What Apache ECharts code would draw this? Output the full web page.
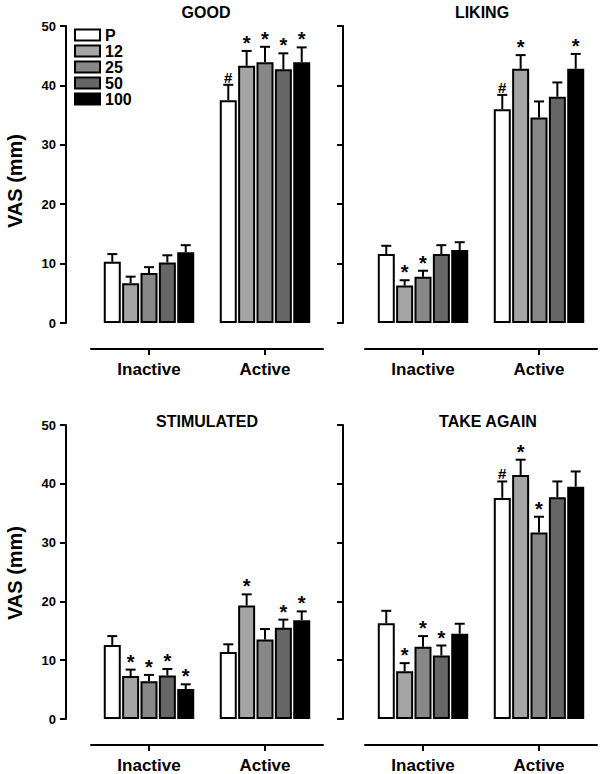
<!DOCTYPE html>
<html><head><meta charset="utf-8">
<script src="https://cdn.jsdelivr.net/npm/echarts@6/dist/echarts.min.js"></script>
<style>html,body{margin:0;padding:0;background:#fff}#chart{width:600px;height:774px}</style>
</head><body><div id="chart"></div>
<script>
// ---------- data ----------
const categories = ['Inactive', 'Active'];
const doses = ['P', '12', '25', '50', '100'];
const panelTitles = ['GOOD', 'LIKING', 'STIMULATED', 'TAKE AGAIN'];
const yTicks = [0, 10, 20, 30, 40, 50];
const yAxisTitle = 'VAS (mm)';

const goodInactive = [10.3, 6.7, 8.4, 10.2, 11.9];
const goodInactiveErr = [1.3, 1.1, 1.0, 1.2, 1.2];
const goodInactiveMarks = ['', '', '', '', ''];
const goodActive = [37.5, 43.3, 43.9, 42.7, 43.9];
const goodActiveErr = [2.6, 2.5, 2.6, 2.7, 2.5];
const goodActiveMarks = ['#', '*', '*', '*', '*'];

const likingInactive = [11.6, 6.3, 7.8, 11.6, 12.3];
const likingInactiveErr = [1.4, 0.9, 1.0, 1.5, 1.3];
const likingInactiveMarks = ['', '*', '*', '', ''];
const likingActive = [36.0, 42.8, 34.6, 38.1, 42.8];
const likingActiveErr = [2.4, 2.3, 2.7, 2.4, 2.5];
const likingActiveMarks = ['#', '*', '', '', '*'];

const stimInactive = [12.6, 7.3, 6.4, 7.4, 5.1];
const stimInactiveErr = [1.5, 1.1, 1.1, 1.1, 0.8];
const stimInactiveMarks = ['', '*', '*', '*', '*'];
const stimActive = [11.4, 19.3, 13.5, 15.5, 16.8];
const stimActiveErr = [1.3, 1.9, 1.8, 1.4, 1.5];
const stimActiveMarks = ['', '*', '', '*', '*'];

const takeInactive = [16.3, 8.1, 12.3, 10.8, 14.5];
const takeInactiveErr = [2.1, 1.4, 1.8, 1.7, 1.7];
const takeInactiveMarks = ['', '*', '*', '*', ''];
const takeActive = [37.6, 41.5, 31.7, 37.7, 39.5];
const takeActiveErr = [2.8, 2.6, 2.7, 2.7, 2.6];
const takeActiveMarks = ['#', '*', '*', '', ''];

// ---------- assembly ----------
const panels = [
  {inact: goodInactive, inactErr: goodInactiveErr, inactMarks: goodInactiveMarks, act: goodActive, actErr: goodActiveErr, actMarks: goodActiveMarks},
  {inact: likingInactive, inactErr: likingInactiveErr, inactMarks: likingInactiveMarks, act: likingActive, actErr: likingActiveErr, actMarks: likingActiveMarks},
  {inact: stimInactive, inactErr: stimInactiveErr, inactMarks: stimInactiveMarks, act: stimActive, actErr: stimActiveErr, actMarks: stimActiveMarks},
  {inact: takeInactive, inactErr: takeInactiveErr, inactMarks: takeInactiveMarks, act: takeActive, actErr: takeActiveErr, actMarks: takeActiveMarks}
];

const FONT = '"Liberation Sans", Arial, Helvetica, sans-serif';
const doseColors = ['#ffffff', '#a5a5a5', '#888888', '#666666', '#000000'];
const BAR_W = 17;
const BAR_GAP = 0.08;
const grids = [
  {left: 91, top: 26, width: 232, height: 297},
  {left: 365, top: 26, width: 232, height: 297},
  {left: 91, top: 425, width: 232, height: 298},
  {left: 365, top: 425, width: 232, height: 298}
];

const xAxes = [], yAxes = [], series = [];
panels.forEach((pn, p) => {
  xAxes.push({
    type: 'category', gridIndex: p, data: categories, offset: 26,
    axisLine: {show: true, onZero: false, lineStyle: {color: '#000', width: 2}},
    axisTick: {show: true, alignWithLabel: true, length: 6, lineStyle: {color: '#000', width: 2}},
    axisLabel: {fontSize: 17, fontWeight: 'bold', color: '#000', margin: 12, fontFamily: FONT}
  });
  yAxes.push({
    type: 'value', gridIndex: p,
    min: yTicks[0], max: yTicks[yTicks.length - 1], interval: yTicks[1] - yTicks[0],
    offset: (p % 2) ? 22 : 25,
    splitLine: {show: false},
    axisLine: {show: true, onZero: false, lineStyle: {color: '#000', width: 2}},
    axisTick: {show: true, length: 6, lineStyle: {color: '#000', width: 2}},
    axisLabel: {show: p % 2 === 0, fontSize: 13, fontWeight: 'bold', color: '#000', margin: 10, fontFamily: FONT}
  });
  doses.forEach((d, i) => {
    series.push({
      type: 'bar', name: d, xAxisIndex: p, yAxisIndex: p,
      data: [pn.inact[i], pn.act[i]],
      barWidth: BAR_W, barGap: (BAR_GAP * 100) + '%',
      itemStyle: {color: doseColors[i], borderColor: '#000', borderWidth: 2},
      animation: false, z: 2
    });
  });
  const errData = [], marks = [];
  [[pn.inact, pn.inactErr, pn.inactMarks], [pn.act, pn.actErr, pn.actMarks]].forEach((grp, c) => {
    grp[0].forEach((v, i) => {
      errData.push([c, v, grp[1][i], i]);
      marks.push(grp[2][i]);
    });
  });
  series.push({
    type: 'custom', xAxisIndex: p, yAxisIndex: p, data: errData, animation: false, z: 3,
    encode: {x: 0, y: 1},
    renderItem: function (params, api) {
      const cat = api.value(0), mean = api.value(1), err = api.value(2), dose = api.value(3);
      const base = api.coord([cat, mean]);
      const capY = api.coord([cat, mean + err])[1];
      const pitch = BAR_W * (1 + BAR_GAP);
      const x = base[0] + (dose - 2) * pitch;
      const mark = marks[params.dataIndex];
      const children = [
        {type: 'line', shape: {x1: x, y1: base[1], x2: x, y2: capY}, style: {stroke: '#000', lineWidth: 2}},
        {type: 'line', shape: {x1: x - 5, y1: capY, x2: x + 5, y2: capY}, style: {stroke: '#000', lineWidth: 2}}
      ];
      if (mark) {
        const star = mark === '*';
        children.push({
          type: 'text',
          style: {
            text: mark, x: x, y: star ? capY + 2 : capY,
            align: 'center', verticalAlign: 'bottom',
            font: star ? 'bold 20px ' + FONT : 'bold 15px ' + FONT, fill: '#000'
          }
        });
      }
      return {type: 'group', children: children};
    }
  });
});

const titlePos = [[206, 12], [482, 12], [207, 421], [488, 421]];
const graphic = panelTitles.map((t, i) => ({
  type: 'text', x: titlePos[i][0], y: titlePos[i][1],
  style: {text: t, font: 'bold 16px ' + FONT, fill: '#000', align: 'center', verticalAlign: 'middle'}
}));
[[15, 181], [15, 573]].forEach(pos => {
  graphic.push({
    type: 'text', x: pos[0], y: pos[1], rotation: Math.PI / 2,
    style: {text: yAxisTitle, font: 'bold 20px ' + FONT, fill: '#000', align: 'center', verticalAlign: 'middle'}
  });
});

const chart = echarts.init(document.getElementById('chart'), null, {renderer: 'svg'});
chart.setOption({
  backgroundColor: '#fff',
  animation: false,
  grid: grids,
  xAxis: xAxes,
  yAxis: yAxes,
  legend: {
    orient: 'vertical', left: 74, top: 27, padding: 0,
    itemWidth: 25, itemHeight: 11, itemGap: 0, icon: 'rect', selectedMode: false,
    data: doses,
    textStyle: {fontSize: 16, fontWeight: 'bold', color: '#000', fontFamily: FONT, lineHeight: 15}
  },
  graphic: graphic,
  series: series
});
</script></body></html>
